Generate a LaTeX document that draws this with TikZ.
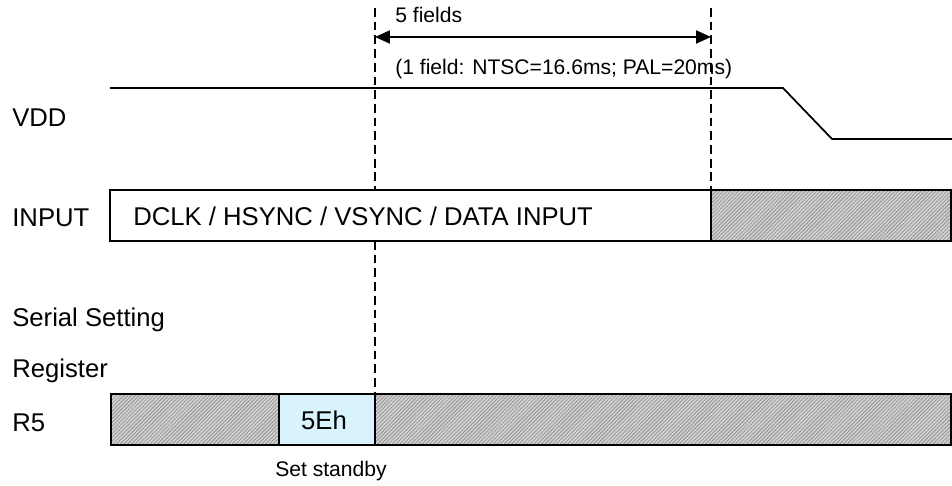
\documentclass[tikz,border=0pt]{standalone}
\usepackage{fontspec}
\setmainfont{Liberation Sans}
\usetikzlibrary{positioning,patterns.meta,arrows.meta}

\tikzset{
  siglbl/.style={anchor=base west, inner sep=0pt, font=\fontsize{14.6}{17}\selectfont},
  note/.style={anchor=base west, inner sep=0pt, font=\fontsize{12}{14}\selectfont},
  wave/.style={line width=1pt},
  hatched/.style={draw, line width=1pt, preaction={fill=gray!35},
    pattern={Lines[angle=45, distance=1.5pt, line width=0.45pt]}, pattern color=gray!85},
  marker/.style={line width=0.8pt, dash pattern=on 5pt off 2.8pt}
}

\begin{document}
\begin{tikzpicture}[x=0.2mm, y=-0.2mm]
    \useasboundingbox (0,0) rectangle (952,486);

    % signal names
    \node[siglbl] (vdd) at (12,127) {VDD};
    \node[siglbl] (inp) at (12,227) {INPUT};
    \node[siglbl] (ser) at (12,327) {Serial Setting};
    \node[siglbl] (reg) at (12,378) {Register};
    \node[siglbl] (rfive) at (12,432) {R5};

    % VDD waveform
    \coordinate (vddA) at (110,88);
    \coordinate (vddB) at (783,88);
    \coordinate (vddC) at (832,139);
    \coordinate (vddD) at (952,139);
    \draw[wave] (vddA) -- (vddB) -- (vddC) -- (vddD);

    % INPUT bus
    \draw[wave] (110,190) rectangle (711,241);
    \draw[hatched] (711,190) rectangle (951,241);
    \node[siglbl] (data) at (133,226) {DCLK / HSYNC / VSYNC / DATA INPUT};

    % R5 register
    \draw[hatched] (111,394) rectangle (279,445);
    \draw[wave, fill=cyan!15] (279,394) rectangle (375,445);
    \draw[hatched] (375,394) rectangle (951,445);
    \node[siglbl, anchor=base] (cmd) at (324,430) {5Eh};
    \node[note, anchor=base] (stby) at (331,477) {Set standby};

    % timing markers
    \coordinate (mA) at (375,8);
    \coordinate (mB) at (711,8);
    \draw[marker] (mA) -- (375,190);
    \draw[marker] (375,241) -- (375,394);
    \draw[marker] (mB) -- (711,190);

    \coordinate (arrL) at (375,37);
    \coordinate (arrR) at (711,37);
    \draw[line width=1.1pt, {Triangle[length=8.5pt,width=7.4pt]}-{Triangle[length=8.5pt,width=7.4pt]}] (arrL) -- (arrR);
    \node[note] (nfld) at (395,23) {5 fields};
    \node[note] (fdef) at (395,75) {(1 field: NTSC=16.6ms; PAL=20ms)};
\end{tikzpicture}
\end{document}
